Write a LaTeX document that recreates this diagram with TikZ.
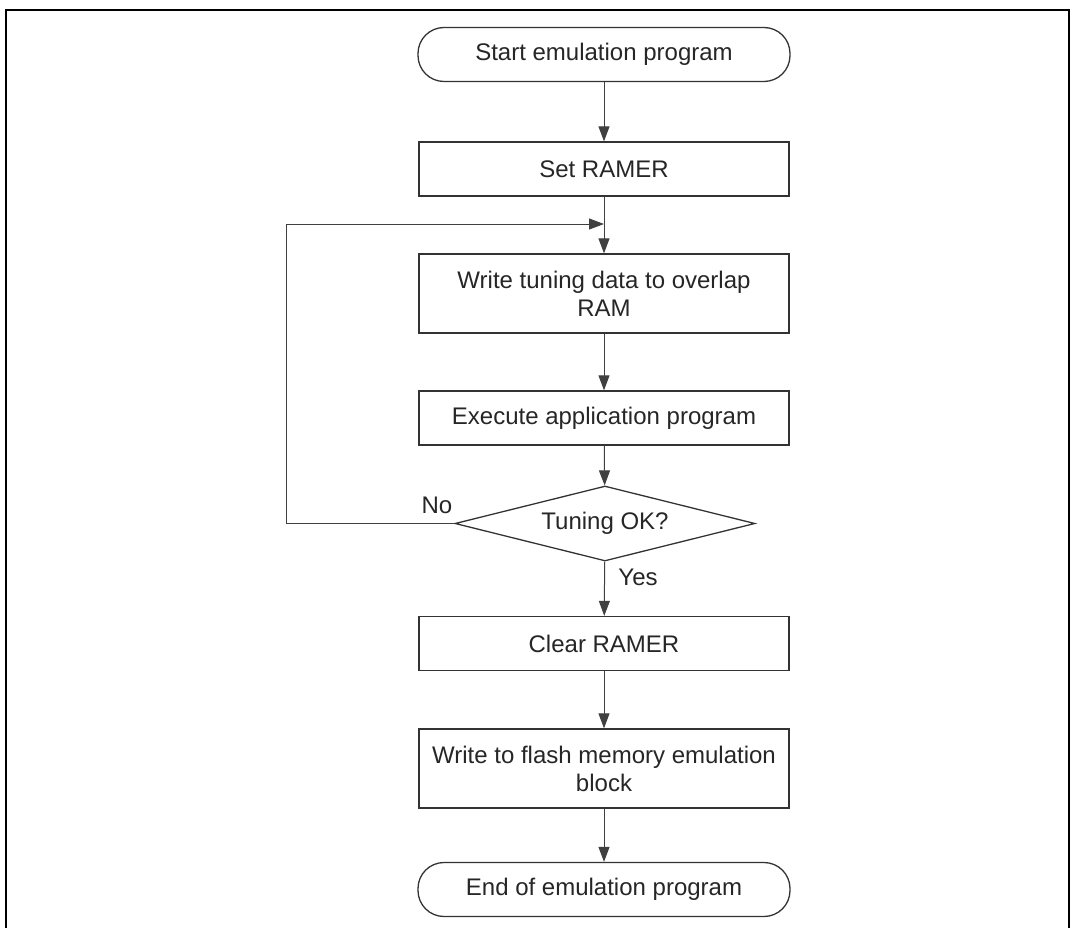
\documentclass[tikz,border=0pt]{standalone}
\usepackage{fontspec}
\setmainfont{Liberation Sans}
\usetikzlibrary{arrows.meta,shapes.geometric}
\definecolor{boxline}{HTML}{333333}

\begin{document}
\begin{tikzpicture}[x=1pt, y=-1pt,
  every node/.style={font=\fontsize{24}{28}\selectfont, text=black!85, align=center},
  procbox/.style={draw=boxline, line width=1.3pt, minimum width=370pt, minimum height=54pt, inner sep=0pt},
  termbox/.style={procbox, rounded corners=26pt, minimum width=372pt},
  decbox/.style={diamond, aspect=4, draw=boxline, line width=1.3pt, minimum width=300pt, minimum height=75pt, inner sep=0pt},
  arr/.style={draw=black!75, line width=1pt, -{Triangle[width=11pt,length=15pt]}}]
  \useasboundingbox (0,0) rectangle (1070,928);
  % frame
  \draw[line width=2pt] (6,930) -- (6,10) -- (1069,10) -- (1069,930);
  % flow
  \node[termbox] (start) at (604,54.5) {Start emulation program};
  \node[procbox] (setram) at (604,169) {Set RAMER};
  \node[procbox, minimum height=79pt] (writetune) at (604,293.5) {Write tuning data to overlap\\RAM};
  \node[procbox] (exec) at (604,418) {Execute application program};
  \node[decbox] (tune) at (605,523.5) {Tuning OK?};
  \node[procbox] (clear) at (604,643.5) {Clear RAMER};
  \node[procbox, minimum height=79pt] (flash) at (604,768.5) {Write to flash memory emulation\\block};
  \node[termbox] (finish) at (604,889.5) {End of emulation program};
  \coordinate (join) at (604,224);
  \draw[arr] (start) -- (setram);
  \draw[arr] (setram) -- (writetune);
  \draw[arr] (writetune) -- (exec);
  \draw[arr] (exec) -- (tune);
  \draw[arr] (tune) -- (clear);
  \draw[arr] (clear) -- (flash);
  \draw[arr] (flash) -- (finish);
  \draw[arr] (tune.west) -- ++(-168,0) |- (join);
  % labels
  \node (no) at (437,505) {No};
  \node (yes) at (638,577) {Yes};
\end{tikzpicture}
\end{document}
